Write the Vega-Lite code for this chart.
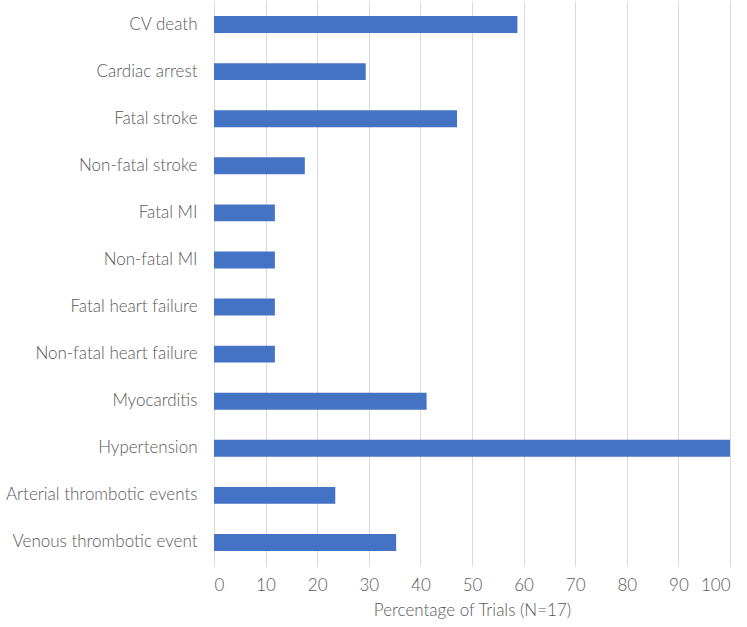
{
  "$schema": "https://vega.github.io/schema/vega-lite/v6.json",
  "autosize": "none",
  "width": 516,
  "height": 565,
  "padding": {"left": 214, "top": 1, "right": 17, "bottom": 61},
  "background": "white",
  "config": {"view": {"stroke": null}, "font": "Lato"},
  "data": {
    "values": [
      {"outcome": "CV death", "pct": 58.8},
      {"outcome": "Cardiac arrest", "pct": 29.4},
      {"outcome": "Fatal stroke", "pct": 47.1},
      {"outcome": "Non-fatal stroke", "pct": 17.6},
      {"outcome": "Fatal MI", "pct": 11.8},
      {"outcome": "Non-fatal MI", "pct": 11.8},
      {"outcome": "Fatal heart failure", "pct": 11.8},
      {"outcome": "Non-fatal heart failure", "pct": 11.8},
      {"outcome": "Myocarditis", "pct": 41.2},
      {"outcome": "Hypertension", "pct": 100},
      {"outcome": "Arterial thrombotic events", "pct": 23.5},
      {"outcome": "Venous thrombotic event", "pct": 35.3}
    ]
  },
  "mark": {"type": "bar", "color": "#4472C4"},
  "encoding": {
    "y": {
      "field": "outcome",
      "type": "nominal",
      "sort": null,
      "scale": {"paddingInner": 0.64, "paddingOuter": 0.32},
      "axis": {
        "title": null,
        "ticks": false,
        "domain": false,
        "labelFontSize": 17,
        "labelColor": "#595959",
        "labelPadding": 17,
        "labelFont": "Lato",
        "labelFontWeight": 300,
        "labelLimit": 300
      }
    },
    "x": {
      "field": "pct",
      "type": "quantitative",
      "scale": {"domain": [0, 100], "nice": false},
      "axis": {
        "title": "Percentage of Trials (N=17)",
        "values": [0, 10, 20, 30, 40, 50, 60, 70, 80, 90, 100],
        "grid": true,
        "gridColor": "#d9d9d9",
        "gridWidth": 1,
        "ticks": false,
        "domain": false,
        "labelFontSize": 17,
        "labelColor": "#595959",
        "labelPadding": 11,
        "labelFont": "Lato",
        "labelFontWeight": 300,
        "titleFontSize": 17,
        "titleColor": "#595959",
        "titleFont": "Lato",
        "titleFontWeight": 300,
        "titlePadding": 9
      }
    }
  }
}
